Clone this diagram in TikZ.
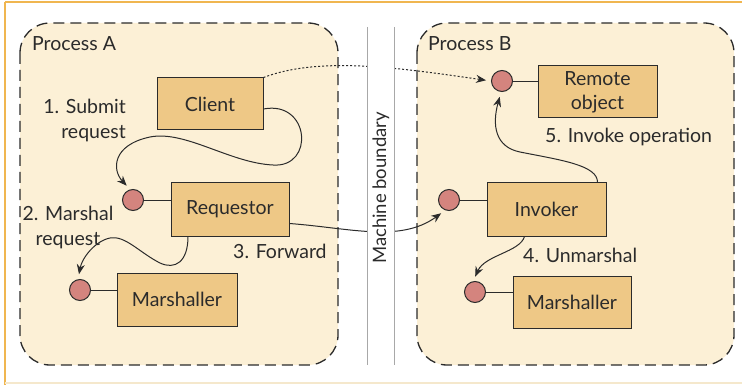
\documentclass[tikz,border=0pt]{standalone}
\usepackage{fontspec}
\setmainfont{Lato}
\usetikzlibrary{arrows.meta}
\definecolor{procfill}{HTML}{FCF0D6}
\definecolor{boxfill}{HTML}{EEC886}
\definecolor{portfill}{HTML}{D4847E}
\definecolor{frameline}{HTML}{F0B650}
\definecolor{framelight}{HTML}{F5E8CC}
\definecolor{ink}{HTML}{2B2B2B}
\definecolor{bandline}{HTML}{A8A8A8}
\tikzset{
  process/.style={draw=ink, line width=1.3pt, dash pattern=on 11pt off 6pt,
    fill=procfill, rounded corners=30pt},
  comp/.style={draw=ink, line width=1pt, fill=boxfill, inner sep=0pt,
    align=center, font=\fontsize{19.5}{24}\selectfont, text=ink},
  port/.style={circle, draw=ink, line width=1pt, fill=portfill,
    minimum size=21pt, inner sep=0pt},
  link/.style={draw=ink, line width=0.8pt},
  flow/.style={draw=ink, line width=1pt,
    -{Stealth[length=10pt,width=8pt]}, shorten >=5pt},
  lbl/.style={font=\fontsize{19.5}{25}\selectfont, text=ink, inner sep=0pt}
}
\begin{document}
\begin{tikzpicture}[x=1pt,y=-1pt]
\useasboundingbox (0,0) rectangle (742,385);
% page frame
\draw[frameline, line width=2pt] (5,2) -- (742,2);
\draw[frameline, line width=1.5pt] (5,2) -- (5,385);
\draw[framelight, line width=1.5pt] (5,383) -- (742,383);

% the two processes
\path[process] (20,23) rectangle (338,365);
\path[process] (417,23) rectangle (734,365);
\node[lbl, anchor=base west] (procA) at (32,51) {Process A};
\node[lbl, anchor=base west] (procB) at (428,51) {Process B};

% components of process A
\node[comp, minimum width=106pt, minimum height=52pt] (client) at (210,104) {Client};
\node[comp, minimum width=118pt, minimum height=53pt] (req) at (230,209.5) {Requestor};
\node[comp, minimum width=120pt, minimum height=53pt] (marA) at (177,299.5) {Marshaller};
\node[port] (pReq) at (133,200) {};
\node[port] (pMarA) at (80,290) {};
\draw[link] (pReq) -- (pReq -| req.west);
\draw[link] (pMarA) -- (pMarA -| marA.west);

% components of process B
\node[comp, minimum width=119pt, minimum height=52pt] (remote) at (597.5,92) {Remote\\object};
\node[comp, minimum width=119pt, minimum height=53pt] (inv) at (546.5,209.5) {Invoker};
\node[comp, minimum width=118pt, minimum height=52pt] (marB) at (572,302) {Marshaller};
\node[port] (pRem) at (502,81) {};
\node[port] (pInv) at (449,200) {};
\node[port] (pMarB) at (475,292) {};
\draw[link] (pRem) -- (pRem -| remote.west);
\draw[link] (pInv) -- (pInv -| inv.west);
\draw[link] (pMarB) -- (pMarB -| marB.west);

% step labels
\node[lbl, align=right, anchor=east] (l1) at (126,120) {1. Submit\\request};
\node[lbl, align=center] (l2) at (68,227) {2. Marshal\\request};
\node[lbl, anchor=base west] (l3) at (233,258) {3. Forward};
\node[lbl, anchor=base west] (l4) at (523,262) {4. Unmarshal};
\node[lbl, anchor=base west] (l5) at (545,143) {5. Invoke operation};

% message flow
\draw[flow] ([yshift=-5pt]client.east)
  .. controls (310,100) and (315,168) .. (273,165)
  .. controls (230,163) and (185,130) .. (150,137)
  .. controls (112,145) and (112,170) .. (pReq.105);
\draw[flow] ([xshift=-42pt]req.south)
  .. controls (188,262) and (175,270) .. (160,263)
  .. controls (140,253) and (125,235) .. (110,238)
  .. controls (95,241) and (82,258) .. (pMarA.100);
\draw[flow] ([yshift=-14pt]req.east)
  .. controls (350,228) and (400,243) .. (pInv.250);
\draw[flow] ([xshift=-22pt]inv.south)
  .. controls (520,252) and (485,255) .. (pMarB.100);
\draw[flow] ([xshift=51pt]inv.north)
  .. controls (598,165) and (560,160) .. (520,152)
  .. controls (495,147) and (492,125) .. (pRem.265);
\draw[flow, dash pattern=on 2pt off 2pt] (client.north east)
  .. controls (320,56) and (400,68) .. (pRem.180);

% machine boundary band
\fill[white] (367,27) rectangle (394,365);
\draw[bandline, line width=0.8pt] (367,27) -- (367,365);
\draw[bandline, line width=0.8pt] (394,27) -- (394,365);
\node[lbl, font=\fontsize{18.5}{22}\selectfont, rotate=90] (mb) at (381,188) {Machine boundary};
\end{tikzpicture}
\end{document}
